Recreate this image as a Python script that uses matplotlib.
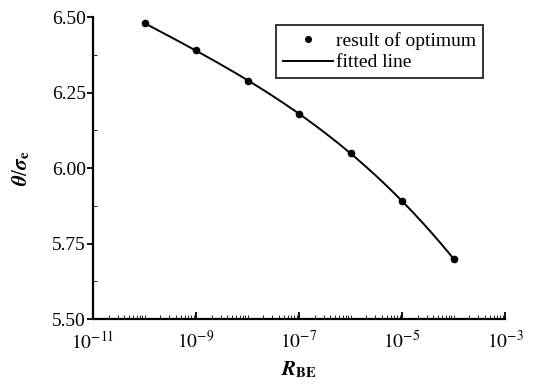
import numpy as np
import matplotlib
matplotlib.use('Agg')
import matplotlib.pyplot as plt
from matplotlib.ticker import LogLocator, MultipleLocator, NullFormatter

plt.rcParams['font.family'] = 'Liberation Serif'
plt.rcParams['mathtext.fontset'] = 'stix'

# data
r_be = [1e-10, 1e-9, 1e-8, 1e-7, 1e-6, 1e-5, 1e-4]
theta = [6.48, 6.39, 6.29, 6.18, 6.05, 5.89, 5.70]

# fitted curve (polynomial in log10 R)
lx = np.log10(r_be)
coef = np.polyfit(lx, theta, 3)
lx_fit = np.linspace(lx[0], lx[-1], 200)
y_fit = np.polyval(coef, lx_fit)

fig = plt.figure(figsize=(5.33, 3.9), dpi=100)
ax = fig.add_axes([0.1745, 0.182, 0.773, 0.774])

ax.plot(10 ** lx_fit, y_fit, color='black', lw=1.4, label='fitted line')
ax.plot(r_be, theta, 'o', color='black', ms=4.5, label='result of optimum')

ax.set_xscale('log')
ax.set_xlim(1e-11, 1e-3)
ax.set_ylim(5.50, 6.50)
ax.set_xticks([1e-11, 1e-9, 1e-7, 1e-5, 1e-3])
ax.set_xticklabels([r'$10^{-11}$', r'$10^{-9}$', r'$10^{-7}$', r'$10^{-5}$', r'$10^{-3}$'])
ax.xaxis.set_minor_locator(LogLocator(base=10, subs=np.arange(1, 10), numticks=20))
ax.xaxis.set_minor_formatter(NullFormatter())
ax.set_yticks([5.50, 5.75, 6.00, 6.25, 6.50])
ax.set_yticklabels(['5.50', '5.75', '6.00', '6.25', '6.50'])
ax.yaxis.set_minor_locator(MultipleLocator(0.125))

for s in ['top', 'right']:
    ax.spines[s].set_visible(False)
ax.spines['left'].set_linewidth(1.6)
ax.spines['bottom'].set_linewidth(1.6)
ax.tick_params(axis='both', labelsize=14, width=1.3)
ax.tick_params(axis='x', which='major', direction='in', length=5, pad=8)
ax.tick_params(axis='x', which='minor', direction='in', length=3)
ax.tick_params(axis='y', which='major', direction='out', length=4, pad=1)
ax.tick_params(axis='y', which='minor', direction='in', length=3)

ax.set_xlabel(r'$\boldsymbol{R}_{\mathbf{BE}}$', fontsize=15, labelpad=5)
ax.set_ylabel(r'$\boldsymbol{\theta}/\boldsymbol{\sigma}_{\mathbf{e}}$', fontsize=15, labelpad=14)

handles, labels = ax.get_legend_handles_labels()
leg = ax.legend(handles[::-1], labels[::-1], loc='upper right',
                bbox_to_anchor=(0.947, 0.973), borderaxespad=0,
                fontsize=14, frameon=True,
                fancybox=False, edgecolor='black', handlelength=2.6,
                handletextpad=0.15, borderpad=0.35, labelspacing=0.2,
                markerscale=0.9)
leg.get_frame().set_linewidth(1.4)

fig.savefig('out.png', dpi=100)
